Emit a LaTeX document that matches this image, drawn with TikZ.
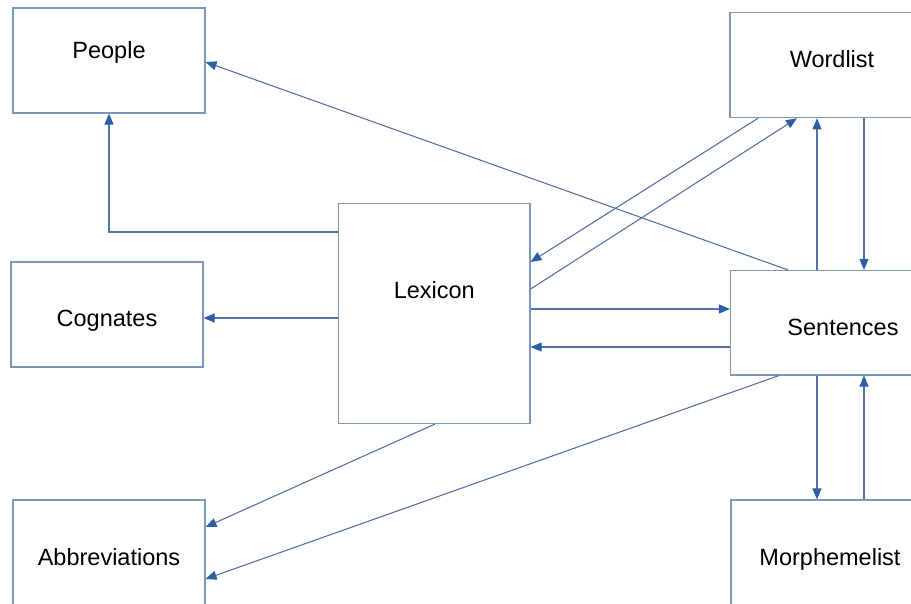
\documentclass[tikz,border=0pt]{standalone}
\usepackage{fontspec}
\setmainfont{Liberation Sans}
\usetikzlibrary{arrows.meta}
\definecolor{lexedge}{RGB}{125,150,185}
\definecolor{lexlink}{RGB}{85,115,165}
\definecolor{lextip}{RGB}{45,95,165}
\begin{document}
\begin{tikzpicture}[
  x=1pt, y=-1pt,
  lexbox/.style = {draw=lexedge, line width=1.1pt, inner sep=0pt, anchor=base,
                   font=\fontsize{23.5}{28}\selectfont},
  lexlink/.style = {draw=lexlink, line width=1.1pt,
                    -{Triangle[length=11pt, width=9pt, color=lextip]}}
]
  \useasboundingbox (0,0) rectangle (911,603);
  \clip (0,0) rectangle (911,603);
  % tables on the left
  \node[lexbox, minimum width=192pt, text height=50.5pt, text depth=54.5pt] (people) at (109,58.5) {People};
  \node[lexbox, minimum width=192pt, text height=64.5pt, text depth=40.5pt] (cognates) at (107,326.5) {Cognates};
  \node[lexbox, minimum width=192pt, text height=65pt, text depth=40pt] (abbrev) at (109,565) {Abbreviations};
  % the lexicon
  \node[lexbox, minimum width=191.5pt, text height=95pt, text depth=125pt] (lexicon) at (434.25,298.5) {Lexicon};
  % tables on the right
  \node[lexbox, minimum width=204pt, text height=54.8pt, text depth=50.2pt] (wordlist) at (832,67.5) {Wordlist};
  \node[lexbox, minimum width=225pt, text height=65pt, text depth=39.5pt] (sentences) at (843,335.5) {Sentences};
  \node[lexbox, minimum width=198pt, text height=65pt, text depth=40pt] (morph) at (830,565) {Morphemelist};
  % links from the lexicon
  \draw[lexlink] (lexicon.west |- 0,232) -| (people.south);
  \draw[lexlink] (lexicon.west |- 0,318) -- (cognates.east |- 0,318);
  \draw[lexlink] (lexicon.south -| 435,0) -- (abbrev.east |- 0,527);
  \draw[lexlink] (lexicon.east |- 0,289) -- (wordlist.south -| 797,0);
  \draw[lexlink] (lexicon.east |- 0,309) -- (sentences.west |- 0,309);
  % links into the lexicon
  \draw[lexlink] (wordlist.south -| 758,0) -- (lexicon.east |- 0,262);
  \draw[lexlink] (sentences.west |- 0,347) -- (lexicon.east |- 0,347);
  % links from the sentences
  \draw[lexlink] (sentences.north -| 788,0) -- (people.east |- 0,62);
  \draw[lexlink] (sentences.south -| 779,0) -- (abbrev.east |- 0,579);
  \draw[lexlink] (sentences.north -| 817,0) -- (wordlist.south -| 817,0);
  \draw[lexlink] (wordlist.south -| 864,0) -- (sentences.north -| 864,0);
  \draw[lexlink] (sentences.south -| 817,0) -- (morph.north -| 817,0);
  \draw[lexlink] (morph.north -| 864,0) -- (sentences.south -| 864,0);
\end{tikzpicture}
\end{document}
